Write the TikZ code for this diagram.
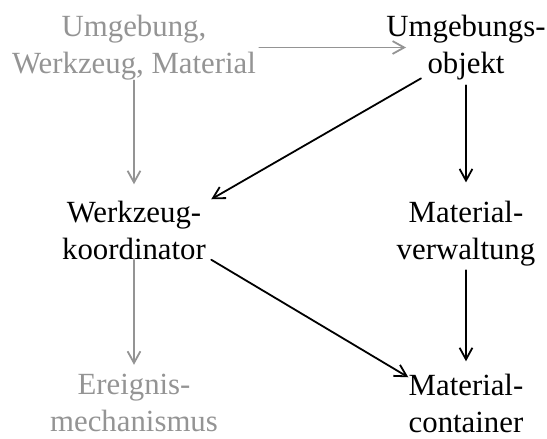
\documentclass[tikz,border=0pt]{standalone}
\usepackage{fontspec}
\setmainfont{Liberation Serif}
\usetikzlibrary{arrows.meta}
\colorlet{pale}{black!42}

\begin{document}
\begin{tikzpicture}[line cap=round,line join=round,x=0.5pt,y=-0.5pt,
    txt/.style={align=center,inner sep=0pt,font=\fontsize{15.4}{18.5}\selectfont},
    edge/.style={-{Straight Barb[length=5.8pt,width=6.4pt]},line width=0.9pt}]
    \useasboundingbox (0,0) rectangle (547,439);

    % Nodes
    \node[txt,text=pale] (U) at (134,47.5) {Umgebung,\\Werkzeug, Material};
    \node[txt] (UO) at (466,47.5) {Umgebungs-\\objekt};
    \node[txt] (WK) at (134,230) {Werkzeug-\\koordinator};
    \node[txt] (MV) at (466,233.3) {Material-\\verwaltung};
    \node[txt,text=pale] (EM) at (134,403) {Ereignis-\\mechanismus};
    \node[txt] (MC) at (466,403) {Material-\\container};

    % Edges
    \draw[edge,pale,shorten <=1.5pt] (U.east) -- ([xshift=10pt]UO.west);
    \foreach \source/\target/\a/\b in {U/WK/0/8, WK/EM/0/4.5} {
            \draw[edge,pale,shorten <=\a pt,shorten >=\b pt] (\source) -- (\target);
        }
    \foreach \source/\target/\a/\b in {UO/MV/2.5/9, MV/MC/2/6} {
            \draw[edge,shorten <=\a pt,shorten >=\b pt] (\source) -- (\target);
        }
    \draw[edge] ([xshift=17.5pt,yshift=1pt]UO.south west) -- ([xshift=2.5pt,yshift=0.5pt]WK.north east);
    \draw[edge] ([xshift=2.5pt]WK.south east) -- ([yshift=-2pt]MC.north west);
\end{tikzpicture}
\end{document}
